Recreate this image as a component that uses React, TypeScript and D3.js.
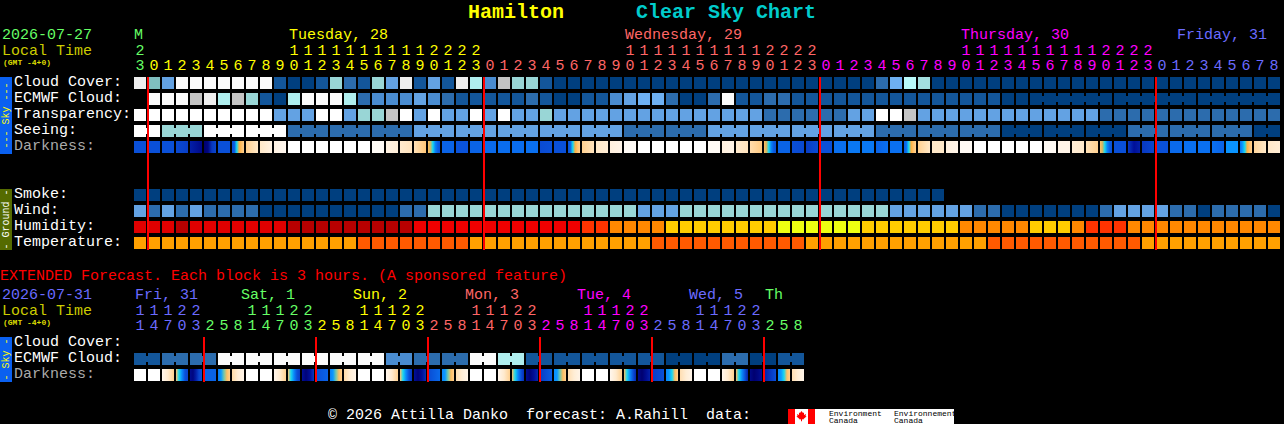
import React from "react";
import * as d3 from "d3";

// ---------- data ----------
const cloudCover = ("htewwwwwww" + "baabfcbfeh" + "bebhgdsffb" + "aaaaaaaaaaaaaaaaaaaaaaa" + "cLpq" + "aaaaaaaaaaaaaaaaaaaaaaaaa").split("");
const ecmwfCloud = (".wwwshgsfb" + "agwwwgcddd" + "edcbbbbbcb" + "aabbdeLLca" + "acwbbccbbb" + "bbbbbbbbbb" + "bb" + "aaaaaaaaaaaaaaaaaaaa").split("");
const transparency = ("WWWWWWWWWW" + "eeeWWeffsW" + "eWeeWeWeef" + "eeeeeeeeeeeeeee" + "cccccc" + "ee" + "WWs" + "eeeeeeeeeeeee" + "ccccccccccccc").split("");
const seeing = ("WW" + "fff" + "WWWWWW" + "ccccccccc" + "eeeeeeeeeeeeeee" + "cccccc" + "eeeeeeeeeeee" + "ccccccccc" + "aaaaaaaaa" + "ccccccccc" + "aa").split("");
const smoke = "aaaaaaaaaaaaaaaaaaaaaaaaaaaaaaaaaaaaaaaaaaaaaaaaaaaaaaaaaa".split("");
const wind = ("ecececccc" + "aaaaaaaaaa" + "cc" + "fffffffffffffff" + "eee" + "fffffffffffffff" + "eeeeee" + "cc" + "aaaaaaa" + "c" + "eeee" + "cc" + "a" + "cccc" + "a").split("");
const humidity = ("RRR" + "D" + "RRRRRRR" + "DDDDDDDDD" + "BBBBBBBBBBBB" + "OO" + "NNNN" + "YYYYYYYY" + "GGGGGG" + "YYYYYYY" + "NNNNN" + "YYY" + "N" + "OOO" + "NNNNNNNNNNN").split("");
const temperature = ("TTTTTTTTTTTTTTTT" + "UUUUUUUU" + "TTTTTTTTTTTTT" + "UUUUUUUUUUU" + "TTTTTTTTTTTTT" + "UUUUUUUUUUU" + "TTTTTTTTTT").split("");
const darkness: number[][] = [
  [8], [8], [8], [8.3, 8.7], [9.6, 10.4], [11, 10.6, 9, 8.4], [8], [8, 7.6, 5, 4, 3.5, 3], [3, 2], [2, 1.2],
  [1.2, 0.7], [0], [0], [0], [0], [0], [0], [0.4], [1.2, 1.5], [1.8, 2.2],
  [2.3, 3.3], [3.6, 4.2, 5, 6.5, 7.5, 8], [7.4], [7.9], [7.4], [7.2], [7.1], [7.1], [7], [8.2, 8],
  [8], [8, 7.4, 5, 4, 3.4, 3], [3, 2.2], [2, 1.6], [1.3, 1], [0.4], [0], [0], [0], [0],
  [0], [0.4], [1.3, 1], [1.8, 2.2], [2.5, 3.2], [3.6, 4.2, 5, 6.5, 7.6, 8], [7.4], [8.1, 8.3], [8.8, 8.2], [8],
  [7], [6.8], [6.8], [7.4, 7], [7], [7.6, 7, 5, 4, 3.4, 3], [3, 2], [2], [1.3, 1], [0.5],
  [0], [0], [0], [0], [0], [0.5], [1], [1.6, 1.9], [2.3, 3], [3.5, 4.2, 5, 6.5, 7.6, 8],
  [8], [9, 10, 9.6], [9, 8.4], [8], [7.2], [7], [7], [7, 7.4], [6.1], [7, 6, 5, 4, 3.5, 3],
  [2.8, 2], [2, 1.6],
];
const extCloud = ("bbcccc" + "wwwwwwwwwwww" + "ddcccc" + "ww" + "gg" + "bbbbbbbbbb" + "aaaa" + "cc" + "aa" + "bb").split("");
const extDarkness: number[][] = [
  [0], [0], [0.8, 1.8, 3], [3.4, 5, 6.4, 8, 8.6], [10.2, 10.6, 9.6, 8.4, 8], [7.4], [6.8, 6, 4.6, 3.6, 3], [2.6, 1.6, 1],
  [0], [0], [0.8, 1.8, 3], [3.4, 5, 6.4, 8, 8.8], [10, 10.8, 10, 9], [8, 7.4], [6.6, 6, 4.6, 3.6, 3], [2.6, 1.6, 1],
  [0], [0], [0.8, 1.8, 3], [3.4, 5, 6.4, 8, 9], [10, 10.8, 10, 9.2], [8.2, 7.2], [6.4, 6, 4.6, 3.6, 3], [2.4, 1.6, 1],
  [0], [0], [0.8, 1.8, 3], [3.6, 5, 6.4, 8, 9.2], [10.2, 10.8, 10, 9.4], [8.8, 7.6], [6.2, 6, 4.6, 3.6, 3], [2.4, 1.6, 1],
  [0], [0], [0.8, 1.8, 3], [3.6, 5, 6.4, 8, 9.4], [10.4, 11, 10.2, 9.6], [8.8, 8], [6.4, 6, 5, 3.6, 3], [2.4, 1.6, 1],
  [0], [0], [0.8, 1.8, 3], [3.6, 5, 6.4, 8, 9.6], [10.4, 11, 10.6, 10], [9.6, 8], [6.4, 6, 5, 3.6, 3], [2.4, 1.6, 1],
];

const mainHours = [23, 0, 1, 2, 3, 4, 5, 6, 7, 8, 9, 10, 11, 12, 13, 14, 15, 16, 17, 18, 19, 20, 21, 22, 23,
  0, 1, 2, 3, 4, 5, 6, 7, 8, 9, 10, 11, 12, 13, 14, 15, 16, 17, 18, 19, 20, 21, 22, 23,
  0, 1, 2, 3, 4, 5, 6, 7, 8, 9, 10, 11, 12, 13, 14, 15, 16, 17, 18, 19, 20, 21, 22, 23,
  0, 1, 2, 3, 4, 5, 6, 7, 8];
const extHours = [11, 14, 17, 20, 23, 2, 5, 8, 11, 14, 17, 20, 23, 2, 5, 8, 11, 14, 17, 20, 23, 2, 5, 8,
  11, 14, 17, 20, 23, 2, 5, 8, 11, 14, 17, 20, 23, 2, 5, 8, 11, 14, 17, 20, 23, 2, 5, 8];

const mainDays = [
  { name: "M", x: 134, first: 0, colour: "#66ff66" },
  { name: "Tuesday, 28", x: 289, first: 1, colour: "#ffff00" },
  { name: "Wednesday, 29", x: 625, first: 25, colour: "#ff6666" },
  { name: "Thursday, 30", x: 961, first: 49, colour: "#ff00ff" },
  { name: "Friday, 31", x: 1177, first: 73, colour: "#6b6bff" },
];
const extDays = [
  { name: "Fri, 31", x: 135, first: 0, colour: "#6b6bff" },
  { name: "Sat, 1", x: 241, first: 5, colour: "#66ff66" },
  { name: "Sun, 2", x: 353, first: 13, colour: "#ffff00" },
  { name: "Mon, 3", x: 465, first: 21, colour: "#ff6666" },
  { name: "Tue, 4", x: 577, first: 29, colour: "#ff00ff" },
  { name: "Wed, 5", x: 689, first: 37, colour: "#6b6bff" },
  { name: "Th", x: 765, first: 45, colour: "#66ff66" },
];

const seeingGroups = [[0, 1], ...d3.range(2, 82, 3).map((s) => [s, Math.min(s + 2, 81)])];
const ecmwfGroups = [[64, 69], [70, 75], [76, 81]];
const extGroups = d3.range(0, 48, 2).map((s) => [s, s + 1]);

// ---------- scales ----------
const levelKeys = ["a", "b", "c", "d", "e", "L", "t", "f", "q", "g", "p", "s", "h", "w", "W", "R", "D", "B", "O", "N", "Y", "G", "T", "U"];
const levelColours = ["#003f7f", "#13569a", "#2c6cad", "#4a8cd0", "#63a2e3", "#6eb0f2", "#7fbfbf", "#99d6d6", "#a3e0e0", "#afeeee", "#b8fafa", "#c4c4c4", "#eeeeee", "#fbfbfb", "#ffffff",
  "#e00000", "#b80000", "#f00000", "#ff3300", "#ff8800", "#ffcc00", "#eeff11", "#ffa000", "#ff5a00"];
const levelColour = d3.scaleOrdinal<string, string>().domain(levelKeys).range(levelColours);
const darkColour = d3.scaleLinear<string>()
  .domain([0, 1, 2, 3, 4, 5, 6, 7, 8, 9, 10, 11])
  .range(["#ffffff", "#fff4e8", "#ffe8c8", "#ffd090", "#ffb040", "#18d8f0", "#0a98ff", "#0a70f0", "#0a50d8", "#0838c0", "#000f98", "#000070"]);

const cellX = d3.scaleLinear().domain([0, 1]).range([134, 148]);
const CELL = 12;
const mono = "'Liberation Mono', monospace";

const Row = ({ values, y, groups = [] }: { values: string[]; y: number; groups?: number[][] }) => (
  <g>
    {values.map((v, i) => v === "." ? null : (
      <rect key={i} x={cellX(i)} y={y} width={CELL} height={CELL} fill={levelColour(v)} />
    ))}
    {groups.flatMap(([a, b]) => d3.range(a, b).map((i) => (
      <rect key={`c${i}`} x={cellX(i) + CELL} y={y + 3} width={2} height={6} fill={levelColour(values[i])} />
    )))}
  </g>
);

const DarkRow = ({ values, y, id }: { values: number[][]; y: number; id: string }) => (
  <g>
    <defs>
      {values.map((v, i) => v.length > 1 ? (
        <linearGradient key={i} id={`${id}${i}`}>
          {v.map((d, j) => <stop key={j} offset={j / (v.length - 1)} stopColor={darkColour(d)} />)}
        </linearGradient>
      ) : null)}
    </defs>
    {values.map((v, i) => (
      <rect key={i} x={cellX(i)} y={y} width={CELL} height={CELL}
        fill={v.length > 1 ? `url(#${id}${i})` : darkColour(v[0])} />
    ))}
  </g>
);

const T = ({ x, y, fill, children, size = 15, bold = false, anchor = "start" }: any) => (
  <text x={x} y={y} fill={fill} fontSize={size} fontFamily={mono} fontWeight={bold ? "bold" : "normal"}
    textAnchor={anchor} style={{ whiteSpace: "pre" }}>{children}</text>
);

const dayColour = (days: { first: number; colour: string }[], i: number) =>
  days.filter((d) => d.first <= i).slice(-1)[0].colour;

const Hours = ({ hours, days, dayY, tensY, onesY }: any) => (
  <g>
    {hours.map((h: number, i: number) => (
      <g key={i}>
        {h >= 10 ? <T x={cellX(i) + 6} y={tensY} fill={dayColour(days, i)} anchor="middle">{Math.floor(h / 10)}</T> : null}
        <T x={cellX(i) + 6} y={onesY} fill={dayColour(days, i)} anchor="middle">{h % 10}</T>
      </g>
    ))}
    {days.map((d: any) => <T key={d.name} x={d.x} y={dayY} fill={d.colour}>{d.name}</T>)}
  </g>
);

const SideBar = ({ y, h, fill, text, colour }: any) => (
  <g>
    <rect x={0} y={y} width={12} height={h} fill={fill} />
    <text transform={`translate(9,${y + h / 2}) rotate(-90)`} textAnchor="middle" fontSize={10} fontFamily={mono}
      fill={colour} style={{ whiteSpace: "pre" }}>{text}</text>
  </g>
);

const rowLabels = [
  { label: "Cloud Cover:", y: 77, fill: "#fff" },
  { label: "ECMWF Cloud:", y: 93, fill: "#fff" },
  { label: "Transparency:", y: 109, fill: "#fff" },
  { label: "Seeing:", y: 125, fill: "#fff" },
  { label: "Darkness:", y: 141, fill: "#aaa" },
  { label: "Smoke:", y: 189, fill: "#fff" },
  { label: "Wind:", y: 205, fill: "#fff" },
  { label: "Humidity:", y: 221, fill: "#fff" },
  { label: "Temperature:", y: 237, fill: "#fff" },
  { label: "Cloud Cover:", y: 337, fill: "#fff" },
  { label: "ECMWF Cloud:", y: 353, fill: "#fff" },
  { label: "Darkness:", y: 369, fill: "#aaa" },
];
const midnightsMain = [1, 25, 49, 73];
const midnightsExt = [5, 13, 21, 29, 37, 45];

export default function App() {
  return (
    <svg width={1284} height={424} viewBox="0 0 1284 424"
      style={{ position: "absolute", left: 0, top: 0, display: "block", background: "#000" }}>
      <T x={468} y={18} fill="#ffff00" size={20} bold>Hamilton</T>
      <T x={636} y={18} fill="#00cccc" size={20} bold>Clear Sky Chart</T>

      <T x={2} y={39} fill="#66ff66">2026-07-27</T>
      <T x={2} y={55} fill="#cccc00">Local Time</T>
      <T x={3} y={64.5} fill="#dddd00" size={8} bold>(GMT -4+0)</T>
      <Hours hours={mainHours} days={mainDays} dayY={39} tensY={55} onesY={70} />

      {rowLabels.map((r) => <T key={r.label + r.y} x={14} y={r.y + 9} fill={r.fill}>{r.label}</T>)}

      <SideBar y={77} h={77} fill="#0a60f0" text="--- Sky ---" colour="#ffff00" />
      <SideBar y={189} h={61} fill="#556b00" text="- Ground -" colour="#ffffff" />
      <SideBar y={337} h={45} fill="#0a60f0" text="- Sky -" colour="#ffff00" />

      <Row values={cloudCover} y={77} />
      <Row values={ecmwfCloud} y={93} groups={ecmwfGroups} />
      <Row values={transparency} y={109} />
      <Row values={seeing} y={125} groups={seeingGroups} />
      <DarkRow values={darkness} y={141} id="dm" />
      <Row values={smoke} y={189} />
      <Row values={wind} y={205} />
      <Row values={humidity} y={221} />
      <Row values={temperature} y={237} />
      {midnightsMain.map((i) => <rect key={i} x={cellX(i) - 1} y={77} width={2} height={173} fill="#ff0000" />)}

      <T x={0} y={280} fill="#ff0000">EXTENDED Forecast. Each block is 3 hours. (A sponsored feature)</T>
      <T x={2} y={299} fill="#6b6bff">2026-07-31</T>
      <T x={2} y={315} fill="#cccc00">Local Time</T>
      <T x={3} y={324.5} fill="#dddd00" size={8} bold>(GMT -4+0)</T>
      <Hours hours={extHours} days={extDays} dayY={299} tensY={315} onesY={330} />

      <Row values={extCloud} y={353} groups={extGroups} />
      <DarkRow values={extDarkness} y={369} id="de" />
      {midnightsExt.map((i) => <rect key={i} x={cellX(i) - 1} y={337} width={2} height={45} fill="#ff0000" />)}

      <T x={328} y={419} fill="#ffffff">© 2026 Attilla Danko  forecast: A.Rahill  data:</T>
      <rect x={788} y={409} width={166} height={15} fill="#fff" />
      <rect x={788} y={409} width={7} height={15} fill="#ff0000" />
      <rect x={808} y={409} width={7} height={15} fill="#ff0000" />
      <path d="M801.5 411 l1.5 2 1 -0.5 0 2.5 2 -1 -0.5 2 1 0.5 -3 2.5 0 0.5 -1.5 -0.3 0 2 -1 0 0 -2 -1.5 0.3 0 -0.5 -3 -2.5 1 -0.5 -0.5 -2 2 1 0 -2.5 1 0.5z" fill="#ff0000" />
      <T x={829} y={415.5} fill="#000" size={8}>Environment</T>
      <T x={829} y={423} fill="#000" size={8}>Canada</T>
      <T x={894} y={415.5} fill="#000" size={8}>Environnement</T>
      <T x={894} y={423} fill="#000" size={8}>Canada</T>
    </svg>
  );
}
